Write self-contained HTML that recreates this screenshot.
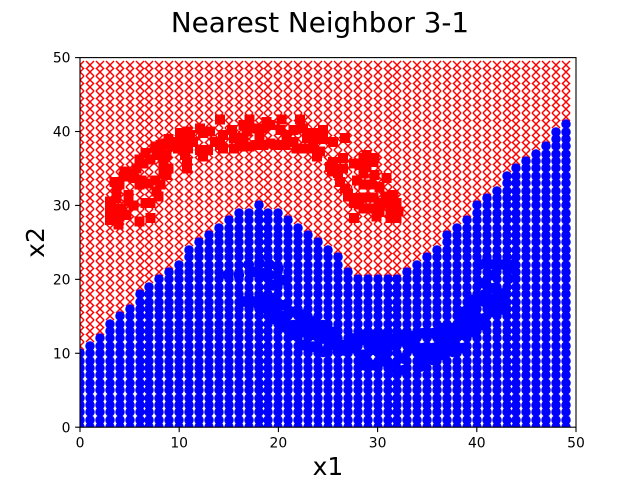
<!DOCTYPE html>
<html lang="en">
<head>
<meta charset="utf-8">
<title>Nearest Neighbor 3-1</title>
<style>
html,body{margin:0;padding:0;background:#fff;}
svg{display:block;}
text{font-family:"DejaVu Sans","Liberation Sans",sans-serif;fill:#000;}
</style>
</head>
<body>
<svg id="chart" width="640" height="480" viewBox="0 0 640 480" xmlns="http://www.w3.org/2000/svg">
  <defs><clipPath id="plot-clip"><rect x="80" y="57.6" width="496" height="369.6"/></clipPath></defs>
  <text x="320" y="32" font-size="27.8" text-anchor="middle">Nearest Neighbor 3-1</text>
  <g id="plot" clip-path="url(#plot-clip)"></g>
  <g id="axes"></g>
  <text x="328" y="475" font-size="25" text-anchor="middle">x1</text>
  <text x="0" y="0" font-size="25" text-anchor="middle" transform="translate(44,242.5) rotate(-90)">x2</text>
</svg>
<script>
const xTicks = [0, 10, 20, 30, 40, 50];
const yTicks = [0, 10, 20, 30, 40, 50];
const gridColumns = 50;
const gridRows = 50;
// Highest grid row classified as blue, for each column 0..49
const blueTop = [10,11,12,14,15,16,18,19,20,21,22,24,25,26,27,28,29,29,30,29,29,28,27,26,25,24,23,21,20,20,20,20,20,21,22,23,24,26,27,28,30,31,32,34,35,36,37,38,40,41];
const redSamplesX = [3.2,3.7,4.9,4.0,3.0,4.9,4.0,3.7,5.0,4.4,6.0,6.4,6.6,6.0,8.1,7.7,8.4,8.7,8.1,7.9,6.6,6.0,7.1,4.7,10.1,10.8,9.6,8.6,12.4,12.1,10.4,10.8,10.8,9.2,12.4,12.1,10.9,14.1,14.4,13.6,14.4,15.5,15.5,16.5,17.1,16.5,17.5,18.8,19.2,18.1,17.1,19.2,20.3,20.2,19.8,22.2,22.5,24.5,22.9,21.5,22.2,23.5,23.9,22.9,25.5,26.7,25.2,26.0,26.2,26.5,27.0,27.9,28.6,29.6,28.2,29.7,29.4,27.9,28.6,30.9,30.2,27.6,29.9,29.2,30.6,31.6,31.9,32.1,31.3,28.2,27.0,3.5,4.5,5.7,5.4,6.2,6.9,3.7,3.0,4.2,3.0,3.9,5.4,7.1,7.7,7.6,8.4,8.9,7.1,7.6,8.7,8.9,9.9,11.4,11.1,10.6,13.1,12.9,14.1,16.1,15.3,16.8,17.8,18.5,18.5,20.8,20.7,21.5,23.5,21.8,23.5,24.2,24.5,25.5,25.4,26.5,26.7,27.6,28.9,28.9,29.7,28.6,28.6,29.6,27.6,28.6,30.1,30.2,31.3,31.9,30.8,31.6];
const redSamplesY = [29.8,28.0,30.5,28.5,29.2,31.4,32.8,32.3,34.3,33.9,32.8,35.7,37.1,36.2,38.2,36.8,35.5,34.1,32.8,31.2,30.3,27.8,28.3,28.7,39.8,40.0,38.6,38.4,39.8,40.4,38.6,35.9,35.0,38.0,36.6,37.5,37.7,41.6,39.5,38.6,37.7,39.1,37.7,39.1,41.6,40.9,40.4,41.3,40.9,39.1,38.0,38.4,41.6,40.2,38.2,41.6,40.4,40.2,39.1,38.6,37.7,38.8,36.6,37.7,38.6,39.1,35.2,34.4,33.2,36.4,31.6,31.0,36.4,35.9,35.5,34.1,32.8,33.4,34.3,33.7,32.5,28.3,28.5,29.6,30.3,30.7,28.3,29.2,29.6,30.1,31.2,33.2,34.6,35.0,33.7,33.4,33.0,31.0,30.5,29.6,28.0,27.4,30.0,30.3,31.9,33.4,34.3,35.0,36.2,38.0,36.8,39.0,37.7,38.6,39.5,36.8,40.0,37.5,38.2,38.0,40.2,40.0,38.2,40.4,38.2,39.5,38.2,40.2,39.8,37.7,37.7,37.3,39.0,35.9,34.6,35.0,32.3,35.7,35.2,36.8,36.4,32.8,31.1,31.1,30.3,29.6,30.0,29.1,28.3,30.3,31.2,31.4];
const blueSamplesX = [14.9,16.0,17.0,18.1,18.5,17.6,19.1,19.5,20.5,16.5,17.5,18.5,19.5,20.5,21.5,22.5,19.5,20.5,21.5,22.5,23.5,23.5,24.5,24.5,25.5,25.5,22.5,23.5,24.5,26.5,27.5,28.6,29.6,30.6,31.6,32.6,33.6,34.6,35.6,36.6,37.6,38.6,39.6,36.6,37.6,38.6,39.6,40.7,41.7,42.7,40.7,39.6,41.0,42.3,40.3,40.3,41.7,42.7,43.3,41.7,42.7,38.6,28.6,29.6,30.6,30.6,31.6,32.6,33.6,34.6,35.6,34.6,35.6,36.6,37.6,38.6,28.6,29.6,32.6,34.3,26.0,27.5,19.1,20.0,18.5,19.5,18.0,20.5,21.5,22.5,23.5,24.5,25.5,26.5,27.5,28.6,29.6,30.6,31.6,32.6,33.6,34.6,35.6,36.6,37.6,38.6,39.6,40.7,41.7,42.7,41.0,41.7,39.6,40.7,43.7,43.2,41.7,42.7];
const blueSamplesY = [20.6,20.6,22.0,22.2,20.8,21.0,22.0,19.2,19.9,17.0,17.0,17.4,17.4,16.5,15.6,15.2,14.7,15.0,13.8,12.9,14.3,12.5,13.8,12.0,12.9,11.1,11.1,10.9,10.2,11.1,12.0,12.5,12.5,12.5,12.0,11.6,11.1,10.2,10.2,11.1,11.6,12.5,12.9,13.4,13.4,14.3,15.2,14.7,17.4,17.4,17.9,17.2,22.4,22.0,22.0,19.5,18.8,18.1,21.5,15.6,15.9,15.6,9.8,11.1,10.2,8.9,8.0,9.3,10.7,9.3,9.1,12.7,12.7,9.8,10.2,10.7,8.4,8.4,7.7,8.2,10.2,10.7,20.6,21.5,16.1,16.1,16.5,13.6,12.5,14.1,13.6,12.9,12.2,10.4,11.1,11.8,10.5,11.4,11.1,12.5,12.3,10.7,10.7,12.5,12.5,13.4,14.0,13.8,20.6,22.0,19.2,22.0,16.5,17.0,22.0,20.1,16.5,16.5];

const SVG_NS = 'http://www.w3.org/2000/svg';
const plot = document.getElementById('plot');
const axes = document.getElementById('axes');
function xScale(v) { return 80 + v * 9.92; }
function yScale(v) { return 427.2 - v * 7.392; }
function snap(p) { return Math.round(p); }
function make(tag, attrs) {
  const el = document.createElementNS(SVG_NS, tag);
  for (const k in attrs) el.setAttribute(k, attrs[k]);
  return el;
}

// Red region grid markers
for (let c = 0; c < gridColumns; c++) {
  for (let r = blueTop[c] + 1; r < gridRows; r++) {
    const x = snap(xScale(c)), y = snap(yScale(r)), s = 4;
    const el = make('path', {d: 'M' + (x - s) + ' ' + (y - s) + 'L' + (x + s) + ' ' + (y + s) + 'M' + (x - s) + ' ' + (y + s) + 'L' + (x + s) + ' ' + (y - s), stroke: '#ff0000', 'stroke-width': 1.45, fill: 'none'});
    
    
    plot.appendChild(el);
  }
}
// Blue region grid markers
for (let c = 0; c < gridColumns; c++) {
  for (let r = 0; r <= blueTop[c]; r++) {
    const el = make('circle', {cx: snap(xScale(c)), cy: snap(yScale(r)), r: 4.75, fill: '#0000ff'});
    
    
    plot.appendChild(el);
  }
}
// Red training samples
redSamplesX.forEach(function (v, i) {
  const el = make('rect', {x: xScale(v) - 5, y: yScale(redSamplesY[i]) - 5, width: 10, height: 10, fill: '#ff0000', 'shape-rendering': 'crispEdges'});
  
  
  plot.appendChild(el);
});
// Blue training samples
blueSamplesX.forEach(function (v, i) {
  const el = make('circle', {cx: xScale(v), cy: yScale(blueSamplesY[i]), r: 5.4, fill: '#0000ff'});
  
  
  plot.appendChild(el);
});

// Spines
const frame = make('rect', {x: 80, y: 57.6, width: 496, height: 369.6, fill: 'none', stroke: '#000', 'stroke-width': 1.11});


axes.appendChild(frame);

// X ticks
xTicks.forEach(function (t) {
  const x = xScale(t);
  const tick = make('line', {x1: x, x2: x, y1: 427.2, y2: 432.1, stroke: '#000', 'stroke-width': 1.11});
  
  
  axes.appendChild(tick);
  const label = make('text', {x: x, y: 447.5, 'font-size': 13.9, 'text-anchor': 'middle'});
  
  
  label.textContent = t;
  axes.appendChild(label);
});
// Y ticks
yTicks.forEach(function (t) {
  const y = yScale(t);
  const tick = make('line', {x1: 75.1, x2: 80, y1: y, y2: y, stroke: '#000', 'stroke-width': 1.11});
  
  
  axes.appendChild(tick);
  const label = make('text', {x: 70.5, y: y + 5.1, 'font-size': 13.9, 'text-anchor': 'end'});
  
  
  label.textContent = t;
  axes.appendChild(label);
});
</script>
</body>
</html>
